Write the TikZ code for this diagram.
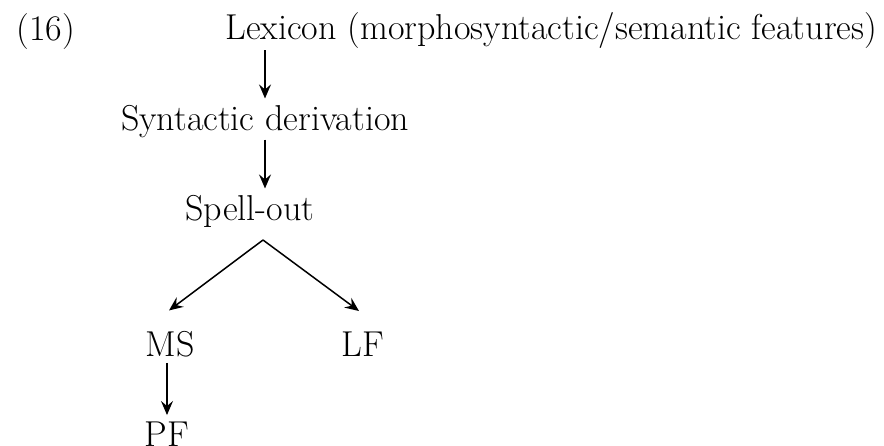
\documentclass[tikz,border=0pt]{standalone}
\usetikzlibrary{arrows.meta}
\def\fsize{18}
\tikzset{
  lbl/.style={anchor=base, inner sep=3pt, font=\fontsize{\fsize}{21}\selectfont},
  arr/.style={-{Stealth[length=7pt, width=6pt, inset=2.5pt]}, line width=0.75pt}
}

\begin{document}
\begin{tikzpicture}[x=0.5pt, y=-0.5pt]
    \useasboundingbox (0,0) rectangle (884,445);
    % labels
    \node[lbl, anchor=base west] (num) at (10,40) {(16)};
    \node[lbl, anchor=base west] (lex) at (219,39) {Lexicon (morphosyntactic/semantic features)};
    \node[lbl] (syn) at (265,130) {Syntactic derivation};
    \node[lbl] (spell) at (250,220) {Spell-out};
    \node[lbl] (ms) at (170,356) {MS};
    \node[lbl] (lf) at (363,356) {LF};
    \node[lbl] (pf) at (167,446) {PF};
    \coordinate (split) at (263,240);
    % arrows
    \draw[arr, shorten <=-2pt] (syn.north |- lex.south) -- (syn.north);
    \draw[arr, shorten <=-2pt] (syn.south) -- (syn.south |- spell.north);
    \draw[arr] (split) -- ([shift={(-1,-14)}]ms.north);
    \draw[arr] (split) -- ([shift={(-4,-14)}]lf.north);
    \draw[arr] (pf.north |- ms.south) -- (pf.north);
\end{tikzpicture}
\end{document}
